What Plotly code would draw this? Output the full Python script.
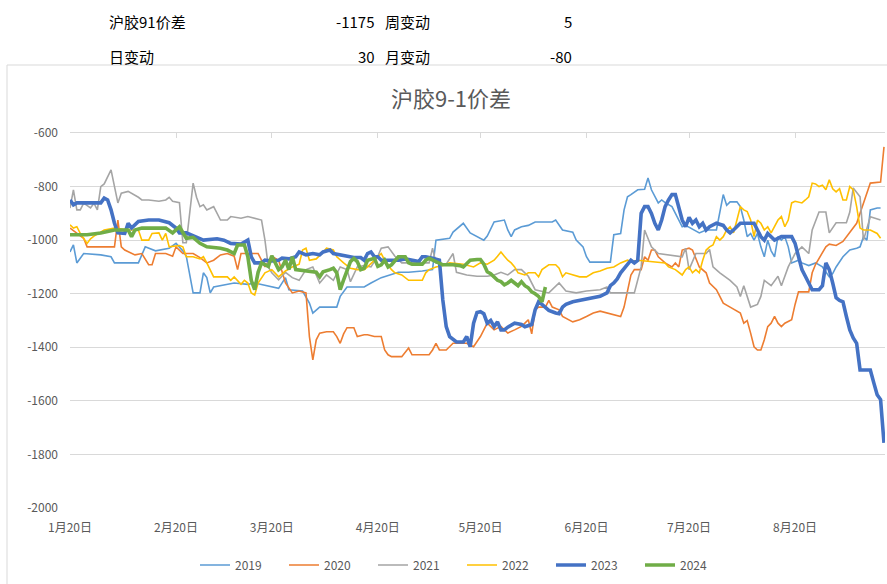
import plotly.graph_objects as go

BASE_YEAR = 2023  # common month-day axis

TICK_DATES = ["01-20", "02-20", "03-20", "04-20", "05-20", "06-20", "07-20", "08-20"]
TICK_LABELS = ["1月20日", "2月20日", "3月20日", "4月20日", "5月20日", "6月20日", "7月20日", "8月20日"]
Y_TICKS = [-2000, -1800, -1600, -1400, -1200, -1000, -800, -600]

S2019_D = ["01-20","01-21","01-22","01-24","01-29","02-01","02-02","02-09","02-11","02-14","02-18","02-20","02-22","02-23","02-25","02-27","02-28","03-01","03-02","03-03","03-09","03-13","03-15","03-17","03-22","03-24","03-25","03-29","03-31","04-01","04-03","04-08","04-09","04-11","04-16","04-18","04-21","04-26","04-29","05-03","05-06","05-07","05-11","05-12","05-15","05-17","05-21","05-22","05-24","05-27","05-28","05-29","05-30","06-01","06-03","06-05","06-10","06-11","06-12","06-13","06-16","06-17","06-19","06-20","06-21","06-27","06-28","06-30","07-01","07-02","07-03","07-05","07-07","07-08","07-09","07-11","07-12","07-13","07-15","07-17","07-18","07-19","07-21","07-23","07-25","07-28","07-30","07-31","08-01","08-03","08-04","08-05","08-06","08-07","08-08","08-09","08-10","08-11","08-12","08-13","08-14","08-15","08-16","08-17","08-18","08-19","08-21","08-22","08-24","08-26","08-28","08-30","08-31","09-01","09-03","09-05","09-07","09-08","09-09","09-10","09-11","09-13","09-14"]
S2019_V = [-1044,-1018,-1085,-1050,-1055,-1062,-1085,-1085,-1025,-1040,-1030,-1012,-1040,-1060,-1197,-1197,-1122,-1140,-1197,-1175,-1160,-1165,-1160,-1165,-1180,-1140,-1185,-1190,-1235,-1272,-1250,-1250,-1210,-1175,-1175,-1160,-1140,-1120,-1120,-1115,-1110,-1000,-993,-970,-937,-973,-1000,-985,-932,-925,-962,-987,-962,-950,-945,-932,-932,-925,-945,-962,-970,-1000,-1025,-1062,-1082,-1082,-980,-975,-887,-838,-830,-812,-810,-768,-812,-861,-850,-860,-875,-925,-950,-945,-960,-973,-962,-962,-830,-870,-857,-857,-875,-925,-987,-975,-1000,-975,-1025,-1062,-1000,-1040,-1062,-987,-1000,-987,-1025,-1085,-1075,-1085,-1095,-1085,-1100,-1137,-1125,-1100,-1062,-1037,-1030,-1025,-987,-1000,-887,-880,-880]

S2020_D = ["01-20","01-22","01-24","01-25","01-31","02-02","02-03","02-04","02-05","02-08","02-10","02-12","02-13","02-14","02-17","02-19","02-20","02-22","02-25","02-27","03-01","03-03","03-05","03-07","03-09","03-10","03-11","03-14","03-16","03-18","03-20","03-22","03-24","03-26","03-28","03-30","03-31","04-01","04-02","04-03","04-05","04-07","04-08","04-09","04-10","04-11","04-13","04-14","04-16","04-17","04-19","04-21","04-22","04-23","04-24","04-27","04-28","04-29","04-30","05-05","05-06","05-07","05-08","05-10","05-12","05-16","05-18","05-20","05-22","05-24","05-26","05-28","05-30","06-01","06-02","06-03","06-04","06-05","06-06","06-08","06-09","06-10","06-12","06-13","06-16","06-18","06-20","06-22","06-24","06-26","06-28","06-30","07-01","07-02","07-03","07-04","07-06","07-07","07-08","07-09","07-10","07-11","07-13","07-15","07-16","07-17","07-18","07-20","07-21","07-23","07-24","07-25","07-26","07-28","07-29","07-30","08-01","08-03","08-04","08-05","08-06","08-07","08-08","08-09","08-10","08-11","08-12","08-13","08-14","08-15","08-16","08-17","08-19","08-20","08-21","08-24","08-25","08-26","08-28","08-29","08-30","09-01","09-03","09-05","09-07","09-08","09-09","09-10","09-11","09-14","09-15"]
S2020_V = [-955,-975,-993,-1025,-1025,-1025,-925,-1025,-1037,-1055,-1050,-1092,-1092,-1050,-1050,-1060,-1025,-1050,-1050,-1065,-1085,-1075,-1055,-1050,-1060,-1110,-1050,-1050,-1050,-1100,-1060,-1075,-1160,-1197,-1190,-1197,-1360,-1447,-1372,-1347,-1342,-1342,-1360,-1385,-1350,-1327,-1327,-1360,-1353,-1353,-1360,-1360,-1410,-1428,-1435,-1435,-1420,-1403,-1428,-1428,-1410,-1385,-1410,-1410,-1385,-1385,-1398,-1360,-1310,-1335,-1322,-1347,-1335,-1322,-1310,-1297,-1350,-1260,-1250,-1250,-1225,-1250,-1260,-1285,-1305,-1297,-1285,-1272,-1265,-1272,-1280,-1285,-1250,-1185,-1130,-1110,-1110,-1062,-1075,-1037,-1037,-1062,-1085,-1100,-1085,-1100,-1037,-1030,-1037,-1100,-1110,-1122,-1160,-1185,-1210,-1235,-1250,-1265,-1272,-1310,-1300,-1347,-1398,-1410,-1410,-1372,-1323,-1310,-1285,-1310,-1323,-1310,-1297,-1240,-1193,-1193,-1122,-1090,-1050,-1025,-1015,-1020,-1005,-973,-937,-900,-861,-820,-787,-783,-652]

S2021_D = ["01-20","01-21","01-22","01-23","01-24","01-26","01-27","01-28","01-29","01-30","02-01","02-02","02-03","02-04","02-06","02-09","02-10","02-12","02-15","02-17","02-18","02-19","02-21","02-22","02-23","02-25","02-26","02-27","02-28","03-01","03-03","03-05","03-07","03-08","03-11","03-13","03-15","03-17","03-18","03-19","03-20","03-22","03-24","03-26","03-28","03-30","04-01","04-03","04-05","04-07","04-09","04-11","04-12","04-14","04-16","04-18","04-20","04-21","04-23","04-25","04-27","05-05","05-06","05-07","05-10","05-12","05-13","05-16","05-19","05-22","05-24","05-26","05-28","05-30","06-01","06-03","06-05","06-09","06-12","06-14","06-17","06-20","06-24","06-26","06-27","07-03","07-04","07-06","07-07","07-09","07-11","07-18","07-19","07-20","07-22","07-25","07-26","07-27","07-29","08-01","08-03","08-04","08-05","08-07","08-09","08-10","08-11","08-13","08-15","08-16","08-18","08-20","08-22","08-24","08-25","08-27","08-29","08-30","09-01","09-04","09-05","09-06","09-08","09-09","09-11","09-14"]
S2021_V = [-880,-812,-887,-887,-862,-880,-862,-887,-800,-790,-738,-800,-861,-825,-818,-840,-850,-850,-855,-850,-840,-855,-860,-1010,-1010,-787,-840,-875,-868,-887,-875,-925,-925,-912,-918,-912,-918,-925,-1000,-1100,-1122,-1148,-1120,-1140,-1150,-1110,-1100,-1160,-1130,-1150,-1100,-1110,-1155,-1100,-1095,-1100,-1060,-1030,-1025,-1060,-1085,-1085,-1030,-1085,-1090,-1050,-1120,-1130,-1135,-1135,-1130,-1120,-1130,-1110,-1110,-1135,-1185,-1197,-1160,-1190,-1197,-1190,-1185,-1175,-1197,-1197,-1197,-1100,-962,-1025,-1050,-1062,-1030,-1110,-1050,-1050,-1035,-1100,-1122,-1150,-1175,-1210,-1170,-1250,-1240,-1210,-1150,-1170,-1135,-1170,-1100,-1050,-1025,-1050,-962,-895,-895,-973,-935,-935,-895,-805,-838,-1000,-913,-925]

S2022_D = ["01-20","01-21","01-22","01-23","01-25","01-26","01-27","01-30","02-02","02-06","02-09","02-10","02-12","02-13","02-15","02-16","02-17","02-18","02-21","02-22","02-23","02-25","02-27","02-28","03-01","03-02","03-03","03-05","03-07","03-08","03-09","03-11","03-12","03-13","03-14","03-15","03-16","03-18","03-20","03-22","03-24","03-26","03-28","03-29","03-30","03-31","04-02","04-04","04-05","04-07","04-08","04-10","04-12","04-14","04-16","04-17","04-19","04-21","04-22","04-24","04-25","04-27","04-29","05-03","05-04","05-05","05-07","05-09","05-11","05-15","05-18","05-20","05-22","05-24","05-25","05-26","05-27","05-28","05-29","05-30","05-31","06-02","06-03","06-05","06-06","06-07","06-09","06-11","06-12","06-13","06-14","06-16","06-18","06-20","06-22","06-24","06-26","06-28","06-30","07-02","07-03","07-05","07-09","07-11","07-13","07-14","07-16","07-18","07-19","07-20","07-21","07-22","07-23","07-24","07-25","07-26","07-27","07-28","07-29","07-30","07-31","08-01","08-02","08-03","08-04","08-05","08-06","08-07","08-08","08-09","08-10","08-11","08-12","08-13","08-14","08-15","08-16","08-17","08-18","08-19","08-20","08-22","08-23","08-24","08-25","08-26","08-27","08-28","08-29","08-30","08-31","09-01","09-02","09-03","09-04","09-05","09-06","09-07","09-08","09-09","09-11","09-13","09-14"]
S2022_V = [-943,-955,-950,-975,-1012,-995,-985,-962,-955,-962,-962,-1000,-1000,-975,-973,-1000,-975,-1025,-1020,-1025,-1062,-1062,-1070,-1062,-1085,-1110,-1137,-1137,-1137,-1150,-1137,-1165,-1150,-1160,-1197,-1205,-1160,-1122,-1110,-1137,-1115,-1100,-1090,-1037,-1030,-1075,-1070,-1045,-1030,-1037,-1062,-1085,-1105,-1110,-1110,-1100,-1075,-1050,-1075,-1110,-1122,-1130,-1150,-1150,-1122,-1110,-1100,-1095,-1085,-1090,-1100,-1085,-1090,-1075,-1060,-1044,-1060,-1075,-1085,-1100,-1122,-1130,-1122,-1122,-1137,-1110,-1092,-1092,-1105,-1137,-1122,-1130,-1137,-1137,-1122,-1115,-1105,-1100,-1085,-1075,-1080,-1075,-1080,-1080,-1085,-1100,-1110,-1130,-1110,-1100,-1122,-1110,-1122,-1075,-1037,-1025,-1018,-987,-1000,-987,-962,-950,-973,-925,-875,-887,-893,-925,-987,-925,-937,-962,-950,-973,-950,-925,-912,-950,-925,-861,-855,-861,-850,-838,-787,-790,-800,-795,-812,-775,-808,-820,-808,-850,-850,-800,-812,-875,-955,-962,-962,-975,-993]

S2023_D = ["01-20","01-21","01-22","01-29","01-30","01-31","02-01","02-02","02-03","02-05","02-06","02-07","02-09","02-12","02-15","02-18","02-20","02-21","02-23","02-28","03-04","03-06","03-08","03-11","03-13","03-14","03-15","03-17","03-18","03-20","03-22","03-23","03-25","03-27","03-28","03-30","04-01","04-03","04-04","04-06","04-07","04-09","04-11","04-13","04-15","04-16","04-17","04-18","04-19","04-20","04-21","04-23","04-26","04-28","04-30","05-01","05-02","05-03","05-04","05-06","05-08","05-09","05-10","05-11","05-12","05-13","05-15","05-16","05-17","05-18","05-19","05-20","05-21","05-22","05-23","05-24","05-25","05-26","05-27","05-28","05-30","06-01","06-02","06-04","06-05","06-06","06-07","06-08","06-09","06-11","06-12","06-13","06-14","06-16","06-19","06-21","06-24","06-26","06-27","06-28","06-29","06-30","07-02","07-03","07-04","07-05","07-06","07-07","07-08","07-09","07-10","07-11","07-12","07-13","07-14","07-15","07-16","07-17","07-18","07-19","07-20","07-21","07-22","07-23","07-24","07-25","07-26","07-28","07-30","07-31","08-01","08-02","08-04","08-06","08-08","08-09","08-10","08-11","08-12","08-14","08-16","08-18","08-19","08-20","08-21","08-22","08-23","08-24","08-25","08-27","08-28","08-29","08-30","08-31","09-01","09-02","09-03","09-04","09-05","09-06","09-07","09-08","09-11","09-12","09-13","09-14","09-15"]
S2023_V = [-850,-868,-861,-861,-843,-850,-887,-937,-973,-975,-937,-955,-930,-925,-925,-935,-955,-973,-973,-1000,-995,-1000,-1012,-1015,-1000,-1062,-1085,-1085,-1075,-1078,-1075,-1067,-1070,-1062,-1044,-1055,-1050,-1055,-1044,-1037,-1050,-1055,-1062,-1065,-1065,-1075,-1050,-1044,-1062,-1062,-1075,-1075,-1075,-1070,-1075,-1075,-1080,-1062,-1062,-1068,-1075,-1223,-1323,-1360,-1372,-1380,-1380,-1360,-1398,-1310,-1270,-1267,-1275,-1310,-1300,-1323,-1305,-1335,-1335,-1325,-1310,-1315,-1323,-1315,-1260,-1230,-1240,-1250,-1262,-1272,-1275,-1250,-1240,-1230,-1222,-1215,-1210,-1197,-1170,-1160,-1145,-1122,-1092,-1075,-1085,-1075,-900,-875,-875,-900,-937,-962,-925,-875,-850,-830,-830,-875,-925,-950,-915,-937,-925,-950,-937,-962,-950,-937,-945,-962,-973,-962,-937,-937,-937,-962,-987,-1000,-975,-1000,-987,-987,-987,-1012,-1062,-1110,-1135,-1160,-1185,-1185,-1170,-1085,-1110,-1160,-1215,-1225,-1230,-1285,-1335,-1365,-1385,-1485,-1485,-1532,-1577,-1595,-1757]

S2024_D = ["01-20","01-25","01-29","02-02","02-06","02-07","02-08","02-10","02-17","02-19","02-21","02-23","02-25","02-27","03-01","03-05","03-07","03-09","03-10","03-12","03-13","03-14","03-15","03-16","03-17","03-19","03-20","03-22","03-23","03-24","03-25","03-26","03-27","03-30","04-02","04-03","04-04","04-06","04-07","04-08","04-09","04-10","04-11","04-12","04-13","04-14","04-15","04-16","04-17","04-19","04-20","04-21","04-22","04-23","04-24","04-25","04-26","04-28","04-29","04-30","05-03","05-04","05-05","05-07","05-09","05-12","05-14","05-15","05-16","05-17","05-19","05-20","05-21","05-22","05-23","05-24","05-25","05-26","05-27","05-28","05-29","05-30","05-31","06-01","06-02","06-03","06-04","06-05","06-06","06-07","06-08"]
S2024_V = [-980,-980,-973,-962,-962,-987,-962,-955,-955,-973,-950,-993,-990,-1012,-1025,-1030,-1037,-1050,-1018,-1018,-1062,-1150,-1185,-1120,-1085,-1098,-1058,-1110,-1100,-1075,-1110,-1062,-1110,-1115,-1120,-1137,-1118,-1110,-1105,-1122,-1185,-1148,-1110,-1080,-1068,-1080,-1110,-1105,-1075,-1068,-1098,-1092,-1075,-1100,-1092,-1075,-1062,-1062,-1085,-1090,-1090,-1075,-1068,-1080,-1092,-1092,-1095,-1100,-1085,-1075,-1072,-1072,-1090,-1118,-1125,-1140,-1150,-1155,-1167,-1160,-1150,-1160,-1170,-1155,-1170,-1178,-1193,-1200,-1210,-1230,-1175]

SERIES = [
    ("2019", S2019_D, S2019_V, "#5B9BD5", 1.6),
    ("2020", S2020_D, S2020_V, "#ED7D31", 1.6),
    ("2021", S2021_D, S2021_V, "#A5A5A5", 1.6),
    ("2022", S2022_D, S2022_V, "#FFC000", 1.6),
    ("2023", S2023_D, S2023_V, "#4472C4", 3.6),
    ("2024", S2024_D, S2024_V, "#70AD47", 3.6),
]

HEADER = [
    ("沪胶91价差", "-1175", "周变动", "5"),
    ("日变动", "30", "月变动", "-80"),
]
TITLE = "沪胶9-1价差"

FONT = "Noto Sans CJK SC, Microsoft YaHei, sans-serif"

def d(md):
    return f"{BASE_YEAR}-{md}"

fig = go.Figure()
for name, dates, vals, color, w in SERIES:
    fig.add_trace(go.Scatter(
        x=[d(m) for m in dates], y=vals, name=name, mode="lines",
        line=dict(color=color, width=w), hoverinfo="x+y+name"))

# invisible trace for the top axis line with tick marks
fig.add_trace(go.Scatter(x=[d(TICK_DATES[0])], y=[-600], xaxis="x2", mode="lines",
                         showlegend=False, hoverinfo="skip", line=dict(width=0)))

W, H = 887, 584
L, R, T, B = 70, 2, 133, 76
PW, PH = W - L - R, H - T - B

def px(x):
    return (x - L) / PW

def py(y):
    return (H - B - y) / PH

xrange = [d("01-20"), d("09-15") + " 07:00"]

fig.update_layout(
    width=W, height=H,
    margin=dict(l=L, r=R, t=T, b=B),
    paper_bgcolor="white", plot_bgcolor="white",
    font=dict(family=FONT, size=12, color="#595959"),
    xaxis=dict(type="date", range=xrange, tickvals=[d(m) for m in TICK_DATES],
               ticktext=TICK_LABELS, showgrid=False, showline=False, ticks="",
               zeroline=False, tickfont=dict(size=12, color="#595959"),
               ticklabelstandoff=11),
    xaxis2=dict(type="date", range=xrange, overlaying="x", side="top",
                tickvals=[d(m) for m in TICK_DATES], showticklabels=False,
                ticks="inside", ticklen=5, tickcolor="#D9D9D9", tickwidth=1,
                showline=True, linecolor="#D9D9D9", linewidth=1, showgrid=False,
                zeroline=False),
    yaxis=dict(range=[-2000, -600], tickvals=Y_TICKS,
               ticktext=[str(v) for v in Y_TICKS], showgrid=True,
               gridcolor="#D9D9D9", gridwidth=1, zeroline=False, showline=False,
               ticks="", tickfont=dict(size=12, color="#595959"),
               ticklabelstandoff=11),
    legend=dict(orientation="h", x=px(462), xanchor="center", y=py(565),
                yanchor="middle", font=dict(size=12, color="#595959"),
                entrywidth=44, entrywidthmode="pixels", itemwidth=30,
                bgcolor="rgba(0,0,0,0)"),
    showlegend=True,
)

# chart frame
fig.add_shape(type="rect", xref="paper", yref="paper",
              x0=px(7), x1=px(892), y0=py(592), y1=py(65),
              line=dict(color="#D9D9D9", width=1), fillcolor="rgba(0,0,0,0)",
              layer="below")

# title
fig.add_annotation(text=TITLE, xref="paper", yref="paper", x=px(451), y=py(97),
                   showarrow=False, xanchor="center", yanchor="middle",
                   font=dict(size=22, color="#595959", family=FONT))

# header table
for row, ypix in zip(HEADER, (22, 57)):
    lab1, val1, lab2, val2 = row
    fig.add_annotation(text=lab1, xref="paper", yref="paper", x=px(107), y=py(ypix),
                       xanchor="left", yanchor="middle", showarrow=False,
                       font=dict(size=15, color="#000000", family=FONT))
    fig.add_annotation(text=val1, xref="paper", yref="paper", x=px(377), y=py(ypix),
                       xanchor="right", yanchor="middle", showarrow=False,
                       font=dict(size=15, color="#000000", family=FONT))
    fig.add_annotation(text=lab2, xref="paper", yref="paper", x=px(383), y=py(ypix),
                       xanchor="left", yanchor="middle", showarrow=False,
                       font=dict(size=15, color="#000000", family=FONT))
    fig.add_annotation(text=val2, xref="paper", yref="paper", x=px(574), y=py(ypix),
                       xanchor="right", yanchor="middle", showarrow=False,
                       font=dict(size=15, color="#000000", family=FONT))

fig.write_html("out.html", config={"displayModeBar": False},
               post_script="document.body.style.margin='0';")
